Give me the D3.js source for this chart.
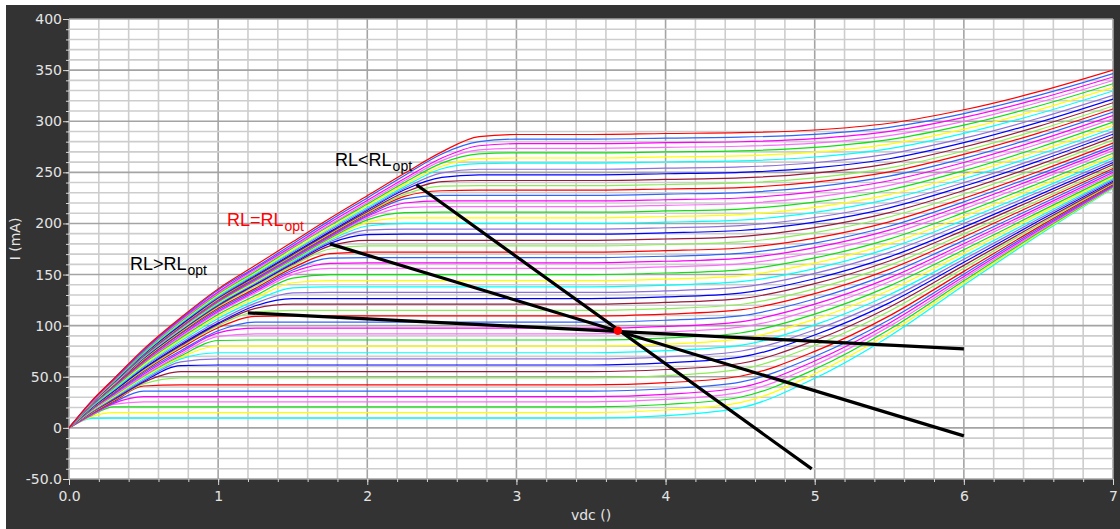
<!DOCTYPE html>
<html><head><meta charset="utf-8">
<script src="https://cdn.jsdelivr.net/npm/d3@7"></script>
<style>body{margin:0;background:#fff;}svg{display:block;}</style>
</head><body>
<svg id="chart" width="1120" height="529"></svg>
<script>
// ---------- data ----------
const vdcGrid = [0,0.15,0.3,0.5,0.75,1,1.25,1.5,1.75,2,2.25,2.5,2.75,3,3.5,4,4.5,5,5.5,6,6.5,7];
// drain current (mA) of each swept trace, top trace first, one value per vdcGrid point
const currentMA = [
[0,26,48,77,108,136,159,182,205,227,249,270,285,287,287,288,288.8,291.4,298,311.2,328.9,350.1],
[0,26,48,76,107,135,157,180,203,225,247,268,280,282.5,282.5,283.5,284.4,287.2,294,307.4,325.3,346.6],
[0,25.5,47,75.5,106,133,156,178,201,222.5,244,264,276,278,278,279,279.9,282.9,290,303.7,321.8,343.3],
[0,25,47,75,105,132,154.5,177,199,220.5,242,261.5,272,273.5,273.5,274.5,275.5,278.6,286,299.9,318.3,339.9],
[0,25,46,74,104,131,153,176,198,219,240,259,268,269,269,270,271,274.4,282,296.2,314.9,336.7],
[0,25,46,74,103.5,130,152,174,196,217.5,238,256,263.5,264,264,265.1,266.1,269.7,277.6,292.2,311.1,333.1],
[0,24.5,45.5,73,102.5,129,151,173,195,215.5,236,253.5,258.5,259,259,260.1,261.2,265,273.2,288.1,307.3,329.6],
[0,24.5,45,72.5,102,128,150,172,193.5,214,234.5,249.5,253,253,253,254.1,255.3,259.4,268,283.4,302.9,325.4],
[0,24.5,45,72,101,127.5,149,170.5,192,213,233,245,247.5,247.5,247.5,248.6,249.9,254.3,263.3,279,298.9,321.7],
[0,24,44.5,72,100.5,127,148,169.5,191,211.5,230.5,241,242,242,242,243.1,244.5,249.2,258.6,274.8,295,318.1],
[0,24,44.5,71.5,100,126,147.5,168.5,190,210.5,228.5,236.5,237,237,237,238.1,239.6,244.6,254.3,270.9,291.5,314.9],
[0,24,44.5,71,99.5,125.5,147,168,189,209.5,226.5,232,232.5,232.5,232.5,233.7,235.1,240.4,250.5,267.5,288.4,312],
[0,24,44,70.5,99,125,146,167,188,208,224,227.5,227.5,227.5,227.5,228.7,230.2,235.8,246.3,263.7,285,308.9],
[0,24,44,70.5,98.5,124,145,166,187,207,220,222,222,222,222,223.2,224.9,230.8,241.8,259.6,281.3,305.6],
[0,23.5,43.5,70,98,124,144.5,165.5,186.5,205.5,215.5,216.5,216.5,216.5,216.5,217.7,219.5,225.8,237.2,255.6,277.7,302.3],
[0,23.5,43.5,69.5,97.5,123,144,164.5,185.5,203.5,210.5,211,211,211,211,212.2,214.1,220.8,232.7,251.6,274.1,299.1],
[0,23.5,43,69.5,97,122.5,143,164,184.5,201,205.5,205.5,205.5,205.5,205.5,206.8,208.7,215.8,228.2,247.6,270.6,296],
[0,23.5,43,69,96.5,121.5,142.5,163,183.5,197.5,200,200,200,200,200,201.3,203.3,210.8,223.8,243.7,267.2,292.9],
[0,23,42.5,68.5,96,121,141.5,162,182,193.5,194.5,194.5,194.5,194.5,194.5,195.8,197.9,205.8,219.3,239.9,263.9,289.9],
[0,23,42.5,68,95.5,120.5,140.5,161,180.5,189,189.5,189.5,189.5,189.5,189.5,190.8,193.1,201.3,215.3,236.4,260.9,287.3],
[0,23,42,68,95,119.5,140,160,178,183.5,183.5,183.5,183.5,183.5,183.5,184.8,187.2,196,210.6,232.3,257.3,284.2],
[0,22.5,42,67,94,118.5,138.5,158.5,175,178,178,178,178,178,178,179.4,181.9,191.1,206.3,228.6,254.2,281.5],
[0,22.5,41.5,66,93,117,136.5,156.5,170.5,172,172,172,172,172,172,173.4,176,185.7,201.6,224.7,250.8,278.6],
[0,22,41,65.5,92,115.5,135,154.5,166,166.5,166.5,166.5,166.5,166.5,166.5,167.9,170.7,180.8,197.3,221.1,247.8,276],
[0,22,40.5,64.5,90.5,114,133.5,152.5,161,161.5,161.5,161.5,161.5,161.5,161.5,163,165.8,176.4,193.5,217.9,245.1,273.7],
[0,21.5,40,64,89.5,113,132,150,156,156,156,156,156,156,156,157.5,160.5,171.6,189.3,214.3,242.2,271.3],
[0,21,39,63,88,111,129.5,146.5,150,150,150,150,150,150,150,151.5,154.6,166.3,184.7,210.6,239.1,268.7],
[0,21,38.5,61.5,86.5,109,127,142,144,144,144,144,144,144,144,145.5,148.8,161.1,180.2,206.9,236,266.2],
[0,20.5,37.5,60.5,85,107,124.5,137,138,138,138,138,138,138,138,139.6,143,155.8,175.8,203.2,233.1,263.9],
[0,20,37,59.5,83,104.5,122,132,132.5,132.5,132.5,132.5,132.5,132.5,132.5,134.1,137.7,151.1,171.7,200,230.5,261.7],
[0,19.5,36,58,81.5,102.5,119.5,126.5,126.5,126.5,126.5,126.5,126.5,126.5,126.5,128.1,131.9,145.9,167.3,196.4,227.7,259.5],
[0,19.5,36,57.5,80.5,101.5,117,121,121,121,121,121,121,121,121,122.7,126.5,141.1,163.3,193.2,225.2,257.6],
[0,19,35.5,56.5,79.5,100,113.5,115,115,115,115,115,115,115,115,116.7,120.7,136,159,189.8,222.5,255.5],
[0,18.5,34.5,55.5,78,98,109,109.5,109.5,109.5,109.5,109.5,109.5,109.5,109.5,111.3,115.4,131.3,155.1,186.8,220.2,253.7],
[0,18,33.5,54,75.5,95,103.5,103.5,103.5,103.5,103.5,103.5,103.5,103.5,103.5,105.3,109.6,126.1,150.9,183.4,217.6,251.9],
[0,18,33,52.5,74,93,97.5,97.5,97.5,97.5,97.5,97.5,97.5,97.5,97.5,99.3,103.8,121,146.7,180.2,215.2,250.1],
[0,17.5,32,51,72,89.5,92,92,92,92,92,92,92,92,92,93.9,98.5,116.4,142.9,177.3,213.1,248.5],
[0,17,31.5,50.5,70.5,85.5,86,86,86,86,86,86,86,86,86,87.9,92.8,111.3,138.7,174.2,210.8,247],
[0,16.5,30.5,49.5,69,80,80,80,80,80,80,80,80,80,80,81.9,87,106.3,134.6,171.1,208.6,245.4],
[0,16.5,30,48,67.5,73.5,73.5,73.5,73.5,73.5,73.5,73.5,73.5,73.5,73.5,75.5,80.7,100.8,130.3,167.8,206.3,243.9],
[0,15.5,29,46.5,64.5,67.5,67.5,67.5,67.5,67.5,67.5,67.5,67.5,67.5,67.5,69.5,75,95.8,126.2,164.9,204.3,242.6],
[0,15.5,28.5,45.5,61,61.5,61.5,61.5,61.5,61.5,61.5,61.5,61.5,61.5,61.5,63.6,69.2,90.9,122.3,162,202.3,241.4],
[0,15,27.5,44.5,55,55,55,55,55,55,55,55,55,55,55,57.1,63,85.5,118,159,200.2,240.1],
[0,14.5,27,43,49,49,49,49,49,49,49,49,49,49,49,51.2,57.2,80.6,114.1,156.2,198.5,239.1],
[0,14,26,41,42,42,42,42,42,42,42,42,42,42,42,44.2,50.5,74.8,109.6,153.1,196.4,238],
[0,13.5,25,36,36,36,36,36,36,36,36,36,36,36,36,38.3,44.8,69.9,105.8,150.4,194.8,237.1],
[0,13,24,30.5,30.5,30.5,30.5,30.5,30.5,30.5,30.5,30.5,30.5,30.5,30.5,32.8,39.5,65.4,102.4,148.1,193.4,236.4],
[0,12.5,23,25.5,25.5,25.5,25.5,25.5,25.5,25.5,25.5,25.5,25.5,25.5,25.5,27.9,34.8,61.4,99.3,145.9,192.1,235.9],
[0,12,20.5,20.5,20.5,20.5,20.5,20.5,20.5,20.5,20.5,20.5,20.5,20.5,20.5,22.9,30,57.3,96.2,143.9,190.9,235.4],
[0,11,15,15,15,15,15,15,15,15,15,15,15,15,15,17.5,24.7,52.9,92.8,141.7,189.7,234.9],
[0,9.3,9.5,9.5,9.5,9.5,9.5,9.5,9.5,9.5,9.5,9.5,9.5,9.5,9.5,12,19.5,48.5,89.5,139.5,188.5,234.5]
];
const traceColors = ["#ff0000","#2f62ff","#ff00ff","#ff6cff","#10e010","#ffff00","#00ffff","#8c6fe0","#0000ff","#9a1a3c","#8ced55"];
const xTickValues = [0,1,2,3,4,5,6,7];
const xTickLabels = ["0.0","1","2","3","4","5","6","7"];
const yTickValues = [-50,0,50,100,150,200,250,300,350,400];
const yTickLabels = ["-50.0","0","50.0","100","150","200","250","300","350","400"];
const loadLineNames = ["RL>RLopt","RL=RLopt","RL<RLopt"];
const loadLineV = [[1.2,6.0],[1.75,6.0],[2.33,4.98]];
const loadLineI = [[112.5,77.3],[180,-7.8],[237.8,-40.1]];
const biasPointV = 3.68, biasPointI = 95;
const xTitle = "vdc ()", yTitle = "I (mA)";

// ---------- drawing ----------
const svg = d3.select("#chart");
const W = 1120, H = 529;
const plot = {left:69, right:1113, top:19, bottom:479};
const x = d3.scaleLinear().domain([0,7]).range([plot.left, plot.right]);
const y = d3.scaleLinear().domain([-50,400]).range([plot.bottom, plot.top]);

svg.append("rect").attr("width",W).attr("height",H).attr("fill","#ffffff");
svg.append("rect").attr("x",6).attr("y",5).attr("width",W-6).attr("height",H-5).attr("fill","#333333");
svg.append("rect").attr("x",plot.left).attr("y",plot.top)
   .attr("width",plot.right-plot.left).attr("height",plot.bottom-plot.top).attr("fill","#ffffff");

// grid
const grid = svg.append("g");
const xMinor = x.ticks(35), yMinor = y.ticks(45);
grid.selectAll(".vx").data(xMinor).join("line")
  .attr("x1",d=>x(d)).attr("x2",d=>x(d)).attr("y1",plot.top).attr("y2",plot.bottom)
  .attr("stroke",d=>Number.isInteger(Math.round(d*1000)/1000)?"#a4a4a4":"#cdcdcd")
  .attr("stroke-width",1.6);
grid.selectAll(".hy").data(yMinor).join("line")
  .attr("y1",d=>y(d)).attr("y2",d=>y(d)).attr("x1",plot.left).attr("x2",plot.right)
  .attr("stroke",d=>(d%50===0)?"#a4a4a4":"#cdcdcd")
  .attr("stroke-width",1.6);

// clip
svg.append("clipPath").attr("id","clip").append("rect")
  .attr("x",plot.left).attr("y",plot.top).attr("width",plot.right-plot.left).attr("height",plot.bottom-plot.top);

const line = d3.line().x(d=>x(d[0])).y(d=>y(d[1])).curve(d3.curveMonotoneX);
const traces = svg.append("g").attr("clip-path","url(#clip)");
const order = d3.range(currentMA.length).reverse();
traces.selectAll("path").data(order).join("path")
  .attr("d",k=>line(vdcGrid.map((v,j)=>[v,currentMA[k][j]])))
  .attr("fill","none")
  .attr("stroke",k=>traceColors[k % traceColors.length])
  .attr("stroke-width",1.2);

// load lines
const ll = svg.append("g").attr("clip-path","url(#clip)");
ll.selectAll("line").data(loadLineNames).join("line")
  .attr("x1",(d,i)=>x(loadLineV[i][0])).attr("x2",(d,i)=>x(loadLineV[i][1]))
  .attr("y1",(d,i)=>y(loadLineI[i][0])).attr("y2",(d,i)=>y(loadLineI[i][1]))
  .attr("stroke","#000").attr("stroke-width",3.2);
svg.append("circle").attr("cx",x(biasPointV)).attr("cy",y(biasPointI)).attr("r",4.2).attr("fill","#ff0000");

// annotations
const annV = [1.784, 1.059, 0.409], annI = [256.2, 197.5, 154.5];
const annText = ["RL<RL","RL=RL","RL>RL"], annColor = ["#000","#ff0000","#000"];
annText.forEach((t,i)=>{
  const tx = svg.append("text").attr("x",x(annV[i])).attr("y",y(annI[i]))
    .attr("fill",annColor[i]).style("font-family","'Liberation Sans', Arial, sans-serif").style("font-size","18px")
    .text(t);
  tx.append("tspan").attr("dx",1).attr("dy",5).style("font-size","14px").text("opt");
});

// axes
const axisFont = "'DejaVu Sans', Verdana, sans-serif";
function styleAxis(g){
  g.select(".domain").remove();
  g.selectAll(".tick line").attr("stroke","#d8d8d8");
  g.selectAll(".tick text").attr("fill","#e4e4e4").style("font-family",axisFont).style("font-size","14px");
}
svg.append("g").attr("transform",`translate(0,${plot.bottom})`)
  .call(d3.axisBottom(x).tickValues(xMinor).tickSize(3).tickFormat("")).call(styleAxis);
svg.append("g").attr("transform",`translate(0,${plot.bottom})`)
  .call(d3.axisBottom(x).tickValues(xTickValues).tickSize(6).tickPadding(6).tickFormat((d,i)=>xTickLabels[i])).call(styleAxis);
svg.append("g").attr("transform",`translate(${plot.left},0)`)
  .call(d3.axisLeft(y).tickValues(yMinor).tickSize(3).tickFormat("")).call(styleAxis);
svg.append("g").attr("transform",`translate(${plot.left},0)`)
  .call(d3.axisLeft(y).tickValues(yTickValues).tickSize(6).tickPadding(1).tickFormat((d,i)=>yTickLabels[i])).call(styleAxis);

svg.append("text").attr("x",(plot.left+plot.right)/2).attr("y",520).attr("text-anchor","middle")
  .attr("fill","#e4e4e4").style("font-family",axisFont).style("font-size","14px").text(xTitle);
svg.append("text").attr("transform",`translate(20,239) rotate(-90)`).attr("text-anchor","middle")
  .attr("fill","#e4e4e4").style("font-family",axisFont).style("font-size","14px").text(yTitle);
</script>
</body></html>
